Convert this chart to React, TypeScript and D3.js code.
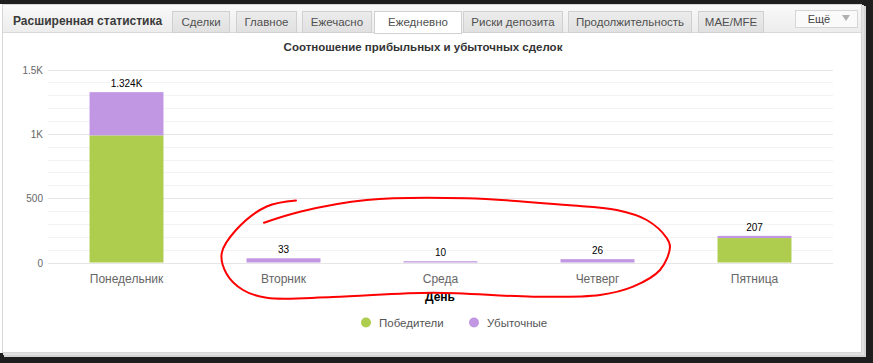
import React from "react";
import * as d3 from "d3";

const categories = ["Понедельник", "Вторник", "Среда", "Четверг", "Пятница"];
const winners = [988, 0, 0, 0, 190];
const losers = [336, 33, 10, 26, 17];
const yTicks = [0, 500, 1000, 1500];
const seriesNames = ["Победители", "Убыточные"];
const tabs = ["Сделки", "Главное", "Ежечасно", "Ежедневно", "Риски депозита", "Продолжительность", "MAE/MFE"];
const activeTab = 3;

const W = 873, H = 363;
const COLORS = ["#aecd4e", "#c197e4"];
const FONT = "'Liberation Sans', Arial, sans-serif";
const TAB_X: [number, number][] = [[172, 230], [236, 297], [302, 372], [374, 462], [463, 563], [568, 692], [698, 764]];

const fmt = (v: number) => (v >= 1000 ? `${d3.format(".4~r")(v / 1000)}K` : `${v}`);
const tickFmt = (v: number) => (v >= 1000 ? `${v / 1000}K` : `${v}`);

const redPts: [number, number][] = [
  [264, 222.7], [300, 211.7], [366.7, 200], [466.7, 198.3], [566.7, 205], [616.7, 210], [646.7, 220],
  [666.7, 238], [670, 247], [660, 270], [633, 286.7], [600, 295], [533, 296.7], [433, 292.7], [333, 297],
  [266.7, 297.8], [243, 290], [226.7, 274], [221.7, 253.3], [236, 230], [266.7, 206.5], [296, 200.5],
];

export default function App() {
  const x = d3.scaleBand<string>().domain(categories).range([48, 833]).paddingInner(0.529).paddingOuter(0.2645);
  const y = d3.scaleLinear().domain([0, 1500]).range([262.5, 69.5]);
  const minor = d3.range(0, 1501, 100).filter((v) => v % 500 !== 0);
  const stack = d3.stack<any>().keys(["w", "l"])(categories.map((c, i) => ({ c, w: winners[i], l: losers[i] })));
  const redLine = d3.line().curve(d3.curveCatmullRom.alpha(0.5))(redPts) || "";

  return (
    <div style={{ position: "fixed", left: 0, top: 0 }}>
      <svg width={W} height={H} style={{ display: "block" }} fontFamily={FONT}>
        <defs>
          <linearGradient id="hdr" x1="0" y1="0" x2="0" y2="1">
            <stop offset="0" stopColor="#f9f9f9" />
            <stop offset="1" stopColor="#ececec" />
          </linearGradient>
          <linearGradient id="tab" x1="0" y1="0" x2="0" y2="1">
            <stop offset="0" stopColor="#ececec" />
            <stop offset="1" stopColor="#e0e0e0" />
          </linearGradient>
        </defs>
        <rect x={0} y={0} width={W} height={H} fill="#1e1e1e" />
        {/* shadow */}
        <rect x={4} y={6} width={862} height={351} fill="#d4d4d4" />
        <rect x={3} y={5} width={861} height={350} fill="#e2e2e2" />
        {/* panel */}
        <rect x={0} y={4} width={862} height={349} fill="#ffffff" />
        <rect x={2.5} y={4.5} width={859} height={348} fill="none" stroke="#d6d6d6" />
        <rect x={3} y={5} width={858} height={28} fill="url(#hdr)" />
        <line x1={3} x2={861} y1={32.5} y2={32.5} stroke="#d8d8d8" />
        <text x={13} y={25} fontSize={12} fontWeight="bold" fill="#3a3a3a">Расширенная статистика</text>
        {tabs.map((t, i) => {
          const [a, b] = TAB_X[i];
          const act = i === activeTab;
          return (
            <g key={t}>
              <rect x={a + 0.5} y={11.5} width={b - a - 1} height={act ? 22 : 21} fill={act ? "#ffffff" : "url(#tab)"} stroke="#d0d0d0" />
              {act && <line x1={a + 1} x2={b - 1} y1={32.5} y2={32.5} stroke="#ffffff" />}
              <text x={(a + b) / 2} y={26} fontSize={11.5} textAnchor="middle" fill="#505050">{t}</text>
            </g>
          );
        })}
        <rect x={795.5} y={10.5} width={62} height={17} fill="#fafafa" stroke="#d6d6d6" />
        <text x={819} y={23} fontSize={11} textAnchor="middle" fill="#444">Ещё</text>
        <path d="M842,15 L850,15 L846,21 Z" fill="#b0b0b0" />

        {/* chart */}
        <text x={423} y={51} fontSize={11.5} fontWeight="bold" textAnchor="middle" fill="#333">Соотношение прибыльных и убыточных сделок</text>
        {minor.map((v) => (
          <line key={"m" + v} x1={48} x2={833} y1={Math.round(y(v)) + 0.5} y2={Math.round(y(v)) + 0.5} stroke="#f3f3f3" />
        ))}
        {yTicks.map((v) => (
          <g key={"t" + v}>
            <line x1={48} x2={833} y1={Math.round(y(v)) + 0.5} y2={Math.round(y(v)) + 0.5} stroke="#e6e6e6" />
            <text x={43} y={y(v) + 4} fontSize={10} textAnchor="end" fill="#666">{tickFmt(v)}</text>
          </g>
        ))}
        {stack.map((s, si) => (
          <g key={"s" + si} fill={COLORS[si]}>
            {s.map((d, i) => (
              <rect key={i} x={x(categories[i])} width={x.bandwidth()} y={y(d[1])} height={Math.max(0, y(d[0]) - y(d[1]))} />
            ))}
          </g>
        ))}
        {categories.map((c, i) => {
          const tot = winners[i] + losers[i];
          const cx = (x(c) || 0) + x.bandwidth() / 2;
          return (
            <g key={"l" + c}>
              <text x={cx} y={y(tot) - 5} fontSize={10} textAnchor="middle" fill="#000" stroke="#fff" strokeWidth={2} paintOrder="stroke">{fmt(tot)}</text>
              <text x={cx} y={283} fontSize={12} textAnchor="middle" fill="#666">{c}</text>
            </g>
          );
        })}
        <text x={440} y={301} fontSize={12} fontWeight="bold" textAnchor="middle" fill="#000">День</text>
        {seriesNames.map((n, i) => (
          <g key={n} transform={`translate(${366 + i * 108},322.5)`}>
            <circle r={5} fill={COLORS[i]} />
            <text x={13} y={4.5} fontSize={11.5} fill="#555">{n}</text>
          </g>
        ))}
        <path d={redLine} fill="none" stroke="#ff0000" strokeWidth={2} strokeLinecap="round" />
      </svg>
    </div>
  );
}
